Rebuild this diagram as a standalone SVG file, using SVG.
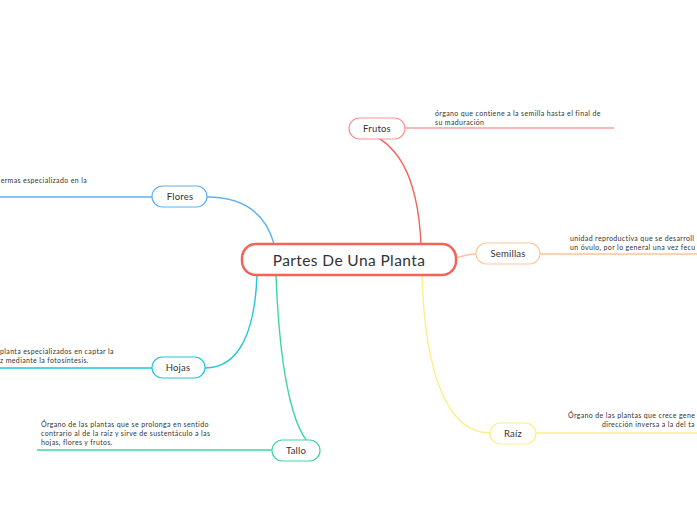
<svg xmlns="http://www.w3.org/2000/svg" width="697" height="520" viewBox="0 0 697 520">
<style>
text{font-family:Lato,"Open Sans","Liberation Sans",sans-serif;fill:#333;}
.lbl{font-size:9.5px;text-anchor:middle;letter-spacing:0.2px;}
.desc{font-size:7px;letter-spacing:0.36px;}
.c{fill:none;stroke-width:1.4;}
.node{fill:#fff;stroke-width:1.2;}
</style>
<rect width="697" height="520" fill="#fff"/>
<g id="connectors">
<path class="c" stroke="#f0645c" d="M421,244 C418,180 400,135 350,128"/>
<path class="c" stroke="#f7a09b" d="M405,128 H614"/>
<path class="c" stroke="#fcc49a" d="M456,258 C462,256 468,254 476,254 M540,254 H697"/>
<path class="c" stroke="#fbef8a" d="M422,275 C425,380 450,433 490,433 M536,433 H697"/>
<path class="c" stroke="#5eb2ef" d="M274,244 C266,215 245,197 207,197 M152,197 H0"/>
<path class="c" stroke="#22c6d6" d="M257,275 C255,330 240,368 205,368 M152,368 H0"/>
<path class="c" stroke="#3fd6a6" d="M276,275 C280,380 295,445 320,450 M272,450 H37"/>
</g>
<g id="central">
<rect x="242" y="244" width="214" height="31" rx="14" fill="#fff" stroke="#f0645c" stroke-width="2.5"/>
<text x="349" y="266" font-size="15.5" text-anchor="middle" letter-spacing="0.4">Partes De Una Planta</text>
</g>
<g id="frutos">
<rect class="node" x="349" y="118" width="56" height="21" rx="10.5" stroke="#f7938f"/>
<text class="lbl" x="377" y="132">Frutos</text>
<text class="desc" x="435" y="116">órgano que contiene a la semilla hasta el final de</text>
<text class="desc" x="435" y="125">su maduración</text>
</g>
<g id="semillas">
<rect class="node" x="476" y="243" width="64" height="21" rx="10.5" stroke="#fcc49a"/>
<text class="lbl" x="508" y="257">Semillas</text>
<text class="desc" x="570" y="241">unidad reproductiva que se desarroll</text>
<text class="desc" x="570" y="250">un óvulo, por lo general una vez fecu</text>
</g>
<g id="raiz">
<rect class="node" x="490" y="423" width="46" height="21" rx="10.5" stroke="#fbef8a"/>
<text class="lbl" x="513" y="437">Raíz</text>
<text class="desc" x="568" y="418">Órgano de las plantas que crece gene</text>
<text class="desc" x="602" y="427">dirección inversa a la del ta</text>
</g>
<g id="flores">
<rect class="node" x="152" y="186" width="55" height="21" rx="10.5" stroke="#5eb2ef"/>
<text class="lbl" x="180" y="200">Flores</text>
<text class="desc" x="87" y="183" text-anchor="end">ermas especializado en la</text>
</g>
<g id="hojas">
<rect class="node" x="152" y="357" width="53" height="21" rx="10.5" stroke="#22c6d6"/>
<text class="lbl" x="178" y="371">Hojas</text>
<text class="desc" x="0" y="354">planta especializados en captar la</text>
<text class="desc" x="0" y="363">z mediante la fotosíntesis.</text>
</g>
<g id="tallo">
<rect class="node" x="272" y="440" width="48" height="21" rx="10.5" stroke="#3fd6a6"/>
<text class="lbl" x="296" y="454">Tallo</text>
<text class="desc" x="41" y="427">Órgano de las plantas que se prolonga en sentido</text>
<text class="desc" x="41" y="436">contrario al de la raíz y sirve de sustentáculo a las</text>
<text class="desc" x="41" y="445">hojas, flores y frutos.</text>
</g>
</svg>
